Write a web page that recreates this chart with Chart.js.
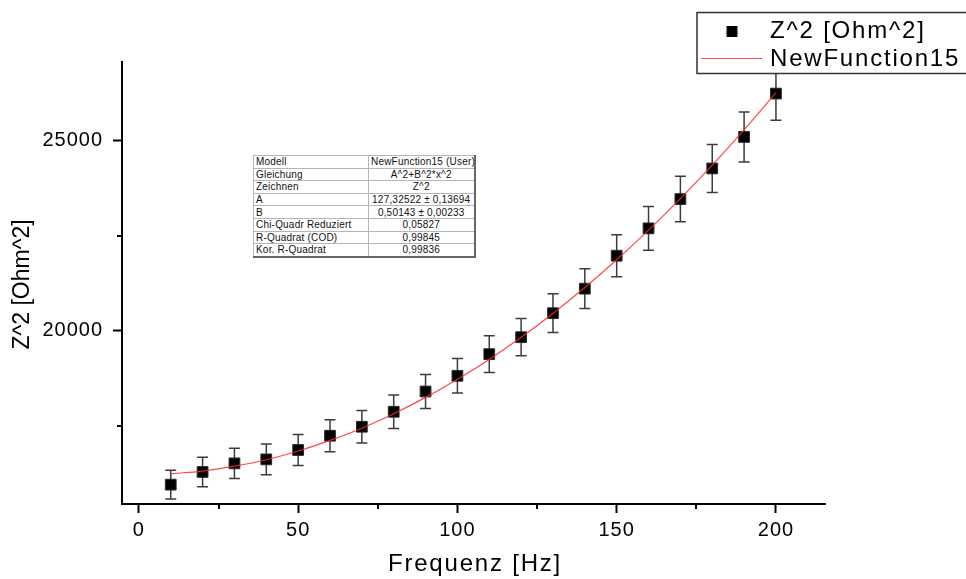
<!DOCTYPE html>
<html>
<head>
<meta charset="utf-8">
<script src="https://cdn.jsdelivr.net/npm/chart.js@4/dist/chart.umd.min.js"></script>
<style>
  html, body { margin:0; padding:0; background:#fff; }
  #wrap { position:relative; width:966px; height:579px; overflow:hidden; }
  canvas { position:absolute; left:0; top:0; }
  #fitTable {
    position:absolute; left:253px; top:155px; width:221px;
    border-collapse:collapse; table-layout:fixed;
    font-family:"Liberation Sans", Arial, sans-serif; font-size:10px; color:#111;
    letter-spacing:0.2px;
    background:#fff;
    border-top:1px solid #777; border-left:1px solid #777;
    border-right:2px solid #666; border-bottom:2px solid #666;
  }
  #fitTable td { border:1px solid #b5b5b5; height:11.6px; line-height:11px; padding:0 2px; white-space:nowrap; overflow:hidden; }
  #fitTable td.v { text-align:center; }
</style>
</head>
<body>
<div id="wrap">
  <canvas id="c" width="966" height="579"></canvas>
  <table id="fitTable">
    <colgroup><col style="width:115px"><col style="width:106px"></colgroup>
    <tbody id="tb"></tbody>
  </table>
</div>
<script>
// ---- data ----
const freq = [10,20,30,40,50,60,70,80,90,100,110,120,130,140,150,160,170,180,190,200];
const z2 = [15954,16288,16514,16619,16866,17242,17478,17872,18405,18818,19388,19834,20465,21111,21978,22698,23468,24274,25104,26244];
const z2Err = [376,389,399,402,407,420,426,439,447,454,481,491,510,525,552,573,599,630,657,701];
const fitFreq = [10,20,30,40,50,60,70,80,90,100,110,120,130,140,150,160,170,180,190,200];
const fitZ2 = [16240,16310,16440,16610,16840,17120,17440,17820,18250,18730,19250,19830,20460,21140,21870,22650,23480,24360,25290,26270];
const xTickValues = [0,50,100,150,200];
const xMinorTicks = [25,75,125,175];
const yTickValues = [20000,25000];
const yMinorTicks = [17500,22500];
const seriesNames = ["Z^2 [Ohm^2]", "NewFunction15"];
const xTitle = "Frequenz [Hz]";
const yTitle = "Z^2 [Ohm^2]";
const tableRows = [
  ["Modell", "NewFunction15 (User)"],
  ["Gleichung", "A^2+B^2*x^2"],
  ["Zeichnen", "Z^2"],
  ["A", "127,32522 \u00b1 0,13694"],
  ["B", "0,50143 \u00b1 0,00233"],
  ["Chi-Quadr Reduziert", "0,05827"],
  ["R-Quadrat (COD)", "0,99845"],
  ["Kor. R-Quadrat", "0,99836"]
];

// ---- table ----
const tb = document.getElementById('tb');
tableRows.forEach(r => {
  const tr = document.createElement('tr');
  const a = document.createElement('td'); a.textContent = r[0];
  const b = document.createElement('td'); b.className = 'v'; b.textContent = r[1];
  tr.appendChild(a); tr.appendChild(b); tb.appendChild(tr);
});

const FONT = '"Liberation Sans", Arial, sans-serif';
const TXT = '#000';

const spacing = {
  id: 'spacing',
  beforeDraw(chart) { chart.ctx.letterSpacing = '1px'; }
};

const errorBars = {
  id: 'errorBars',
  beforeDatasetsDraw(chart) {
    const {ctx, scales: {x, y}} = chart;
    ctx.save();
    ctx.strokeStyle = '#3c3c3c';
    ctx.lineWidth = 1.5;
    freq.forEach((f, i) => {
      const px = x.getPixelForValue(f);
      const t = y.getPixelForValue(z2[i] + z2Err[i]);
      const b = y.getPixelForValue(z2[i] - z2Err[i]);
      ctx.beginPath();
      ctx.moveTo(px, t); ctx.lineTo(px, b);
      ctx.moveTo(px - 5.5, t); ctx.lineTo(px + 5.5, t);
      ctx.moveTo(px - 5.5, b); ctx.lineTo(px + 5.5, b);
      ctx.stroke();
    });
    ctx.restore();
  }
};

const extras = {
  id: 'extras',
  afterDraw(chart) {
    const {ctx, scales: {x, y}, chartArea} = chart;
    ctx.save();
    // minor ticks
    ctx.strokeStyle = '#000';
    ctx.lineWidth = 2;
    xMinorTicks.forEach(v => {
      const px = Math.round(x.getPixelForValue(v));
      ctx.beginPath(); ctx.moveTo(px, chartArea.bottom); ctx.lineTo(px, chartArea.bottom + 5); ctx.stroke();
    });
    yMinorTicks.forEach(v => {
      const py = Math.round(y.getPixelForValue(v));
      ctx.beginPath(); ctx.moveTo(chartArea.left - 5, py); ctx.lineTo(chartArea.left, py); ctx.stroke();
    });
    // axis titles
    ctx.fillStyle = TXT;
    ctx.textBaseline = 'alphabetic';
    ctx.letterSpacing = '1.8px';
    ctx.font = '24px ' + FONT;
    ctx.textAlign = 'center';
    ctx.fillText(xTitle, (chartArea.left + chartArea.right) / 2 + 1.5, 571);
    ctx.save();
    ctx.letterSpacing = '0px';
    ctx.font = '23px ' + FONT;
    ctx.translate(28.5, (chartArea.top + chartArea.bottom) / 2 + 1.5);
    ctx.rotate(-Math.PI / 2);
    ctx.fillText(yTitle, 0, 0);
    ctx.restore();

    // legend
    ctx.fillStyle = '#fff';
    ctx.fillRect(697, 12.5, 280, 61);
    ctx.strokeStyle = '#333';
    ctx.lineWidth = 1.5;
    ctx.strokeRect(697, 12.5, 280, 61);
    ctx.fillStyle = '#000';
    ctx.fillRect(726.5, 26, 11, 11);
    ctx.strokeStyle = 'rgba(255,40,40,0.85)';
    ctx.lineWidth = 1;
    ctx.beginPath(); ctx.moveTo(701, 58.5); ctx.lineTo(762, 58.5); ctx.stroke();
    ctx.fillStyle = TXT;
    ctx.font = '24px ' + FONT;
    ctx.letterSpacing = '1.8px';
    ctx.textAlign = 'left';
    ctx.fillText(seriesNames[0], 770, 37.5);
    ctx.fillText(seriesNames[1], 770, 65.5);
    ctx.restore();
  }
};

new Chart(document.getElementById('c'), {
  type: 'scatter',
  data: {
    datasets: [
      {
        label: seriesNames[1],
        type: 'line',
        data: fitFreq.map((f, i) => ({x: f, y: fitZ2[i]})),
        borderColor: 'rgba(255,40,40,0.85)',
        borderWidth: 1.2,
        pointRadius: 0,
        fill: false,
        cubicInterpolationMode: 'monotone',
        order: 0
      },
      {
        label: seriesNames[0],
        type: 'scatter',
        data: freq.map((f, i) => ({x: f, y: z2[i]})),
        pointStyle: 'rect',
        pointRadius: 7.6,
        pointBackgroundColor: '#000',
        pointBorderColor: '#2a2a2a',
        pointBorderWidth: 1,
        order: 1
      }
    ]
  },
  options: {
    responsive: false,
    animation: false,
    devicePixelRatio: 1,
    layout: { padding: { left: 0, right: 141, top: 62, bottom: 0 } },
    plugins: { legend: { display: false }, tooltip: { enabled: false } },
    scales: {
      x: {
        type: 'linear',
        min: -5.3, max: 215.4,
        afterFit(s) { s.height = 75; },
        afterBuildTicks(s) { s.ticks = xTickValues.map(v => ({value: v})); },
        grid: { drawOnChartArea: false, drawTicks: true, tickLength: 9, tickColor: '#000', tickWidth: 2 },
        border: { display: true, color: '#000', width: 2 },
        ticks: { color: TXT, font: { family: FONT, size: 20 }, padding: 5, maxRotation: 0, autoSkip: false,
                 callback: v => String(v) },
        title: { display: false }
      },
      y: {
        type: 'linear',
        min: 15445, max: 27075,
        afterFit(s) { s.width = 122; },
        afterBuildTicks(s) { s.ticks = yTickValues.map(v => ({value: v})); },
        grid: { drawOnChartArea: false, drawTicks: true, tickLength: 9, tickColor: '#000', tickWidth: 2 },
        border: { display: true, color: '#000', width: 2 },
        ticks: { color: TXT, font: { family: FONT, size: 20 }, padding: 10, autoSkip: false,
                 callback: v => String(v) },
        title: { display: false }
      }
    }
  },
  plugins: [spacing, errorBars, extras]
});
</script>
</body>
</html>
